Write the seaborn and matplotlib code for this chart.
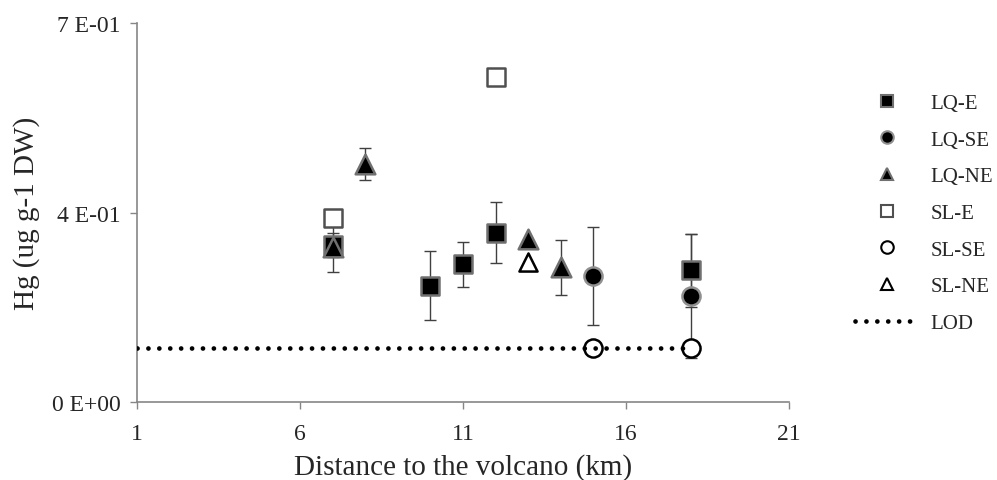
import matplotlib
matplotlib.use("Agg")
import matplotlib.pyplot as plt
import seaborn as sns
import pandas as pd
from matplotlib.lines import Line2D

# ---- data ----
lqe_x = [7, 10, 11, 12, 18]
lqe_y = [0.290, 0.215, 0.254, 0.313, 0.243]
lqe_err = [0.023, 0.063, 0.041, 0.057, 0.068]

lqse_x = [15, 18]
lqse_y = [0.233, 0.196]
lqse_err = [0.090, 0.114]

lqne_x = [7, 8, 13, 14]
lqne_y = [0.287, 0.440, 0.301, 0.249]
lqne_err = [0.047, 0.030, 0.0, 0.051]

sle_x = [7, 12]
sle_y = [0.340, 0.600]

slse_x = [15, 18]
slse_y = [0.100, 0.100]

slne_x = [13]
slne_y = [0.258]

lod_x = [1, 18]
lod_y = [0.1, 0.1]

x_ticks = [1, 6, 11, 16, 21]
y_ticks = [0.0, 0.35, 0.70]
y_ticklabels = ["0 E+00", "4 E-01", "7 E-01"]

sns.set_theme(style="white")
plt.rcParams['font.family'] = ['Liberation Serif', 'DejaVu Serif']

fig = plt.figure(figsize=(9.97, 4.81), dpi=100)
ax = fig.add_axes([137/997, 1-403/481, (789-137)/997, (403-24)/481])

ecol = "#404040"
for xs, ys, es in [(lqe_x, lqe_y, lqe_err), (lqse_x, lqse_y, lqse_err), (lqne_x, lqne_y, lqne_err)]:
    xx = [a for a, e in zip(xs, es) if e > 0]
    yy = [b for b, e in zip(ys, es) if e > 0]
    ee = [e for e in es if e > 0]
    ax.errorbar(xx, yy, yerr=ee, fmt='none', ecolor=ecol, elinewidth=1.0,
                capsize=4.5, capthick=1.0, zorder=2)

series = [
    ("LQ-E", lqe_x, lqe_y, 's', 'black', '#707070', 150),
    ("LQ-SE", lqse_x, lqse_y, 'o', 'black', '#909090', 170),
    ("LQ-NE", lqne_x, lqne_y, '^', 'black', '#707070', 200),
    ("SL-E", sle_x, sle_y, 's', 'white', '#505050', 150),
    ("SL-SE", slse_x, slse_y, 'o', 'white', 'black', 170),
    ("SL-NE", slne_x, slne_y, '^', 'white', 'black', 170),
]
for name, xs, ys, mk, fc, ec, sz in series:
    df = pd.DataFrame({"x": xs, "y": ys})
    sns.scatterplot(data=df, x="x", y="y", ax=ax, marker=mk, color=fc,
                    edgecolor=ec, linewidth=1.8, s=sz, zorder=3, legend=False)

lod_style = (0, (0.01, 2.3))
lod_df = pd.DataFrame({"x": lod_x, "y": lod_y})
sns.lineplot(data=lod_df, x="x", y="y", ax=ax, color="black", linewidth=3.4,
             linestyle=lod_style, zorder=4, legend=False)
ax.lines[-1].set_dash_capstyle('round')

ax.set_xlim(1, 21)
ax.set_ylim(0, 0.70)
ax.set_xticks(x_ticks)
ax.set_xticklabels([str(t) for t in x_ticks])
ax.set_yticks(y_ticks)
ax.set_yticklabels(y_ticklabels)
ax.tick_params(axis='both', which='major', labelsize=17, length=5, width=1,
               color='#868686', direction='out', bottom=True, left=True, pad=7)
ax.tick_params(axis='x', pad=10)
for side in ['top', 'right']:
    ax.spines[side].set_visible(False)
for side in ['left', 'bottom']:
    ax.spines[side].set_color('#868686')
    ax.spines[side].set_linewidth(1.2)

ax.set_xlabel("Distance to the volcano (km)", fontsize=21, labelpad=7)
ax.set_ylabel("Hg (ug g-1 DW)", fontsize=21, labelpad=8)

handles = []
for name, xs, ys, mk, fc, ec, sz in series:
    handles.append(Line2D([], [], linestyle='none', marker=mk, markersize=9,
                          markerfacecolor=fc, markeredgecolor=ec, markeredgewidth=1.5,
                          label=name))
lod_h = Line2D([], [], color='black', linewidth=3.4, linestyle=lod_style, label="LOD")
lod_h.set_dash_capstyle('round')
handles.append(lod_h)
fig.legend(handles=handles, loc='upper left', bbox_to_anchor=(845/997, 1-84/481),
           frameon=False, fontsize=15, labelspacing=0.82, handlelength=3.0,
           handletextpad=0.6, borderpad=0)

fig.savefig("out.png", dpi=100)
